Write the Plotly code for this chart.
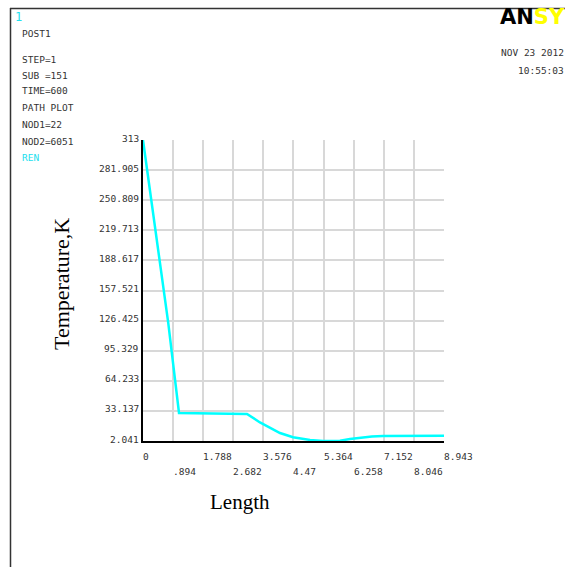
import plotly.graph_objects as go

# ---- data ----
length_vals = [0.0, 0.75, 1.07, 2.80, 3.09, 3.476, 3.773, 4.07, 4.457, 4.962, 5.35, 5.645,
               5.853, 6.15, 6.45, 6.80, 7.13, 8.943]
temp_vals = [313.0, 124.0, 31.0, 30.5, 29.9, 21.2, 15.5, 10.3, 5.9, 3.1, 2.041, 2.041,
             2.35, 4.1, 5.45, 6.7, 7.2, 7.5]

x_ticks = [0, 0.894, 1.788, 2.682, 3.576, 4.47, 5.364, 6.258, 7.152, 8.046, 8.943]
x_tick_labels = ["0", ".894", "1.788", "2.682", "3.576", "4.47", "5.364", "6.258",
                 "7.152", "8.046", "8.943"]
y_ticks = [2.041, 33.137, 64.233, 95.329, 126.425, 157.521, 188.617, 219.713,
           250.809, 281.905, 313]
y_tick_labels = ["2.041", "33.137", "64.233", "95.329", "126.425", "157.521",
                 "188.617", "219.713", "250.809", "281.905", "313"]

info_lines = ["POST1", "STEP=1", "SUB =151", "TIME=600", "PATH PLOT", "NOD1=22", "NOD2=6051"]
info_y_px = [33.3, 59.3, 75.3, 90.7, 107.7, 124.3, 141.0]

W, H = 565, 567
L, R, T, B = 143, 444, 140, 441


def px_x(px):
    return (px - L) / (R - L)


def px_y(py):
    return (B - py) / (B - T)


mono = "DejaVu Sans Mono"
txt_col = "#333333"
cyan = "#00ffff"

fig = go.Figure()
fig.add_trace(go.Scatter(x=length_vals, y=temp_vals, mode="lines",
                         line=dict(color=cyan, width=2.5), cliponaxis=False,
                         hoverinfo="skip"))

annotations = []
for i, (v, lab) in enumerate(zip(x_ticks, x_tick_labels)):
    annotations.append(dict(x=v, xref="x", y=px_y(456.5 if i % 2 == 0 else 471.5), yref="paper",
                            text=lab, showarrow=False, xanchor="left", yanchor="middle",
                            xshift=-2, font=dict(family=mono, size=9.5, color=txt_col)))
for v, lab in zip(y_ticks, y_tick_labels):
    annotations.append(dict(x=px_x(141), xref="paper", y=v, yref="y", text=lab,
                            showarrow=False, xanchor="right", yanchor="middle", yshift=2,
                            font=dict(family=mono, size=9.5, color=txt_col)))
for lab, py in zip(info_lines, info_y_px):
    annotations.append(dict(x=px_x(20), xref="paper", y=px_y(py), yref="paper", text=lab,
                            showarrow=False, xanchor="left", yanchor="middle",
                            font=dict(family=mono, size=9.5, color=txt_col)))
annotations.append(dict(x=px_x(20), xref="paper", y=px_y(157.3), yref="paper", text="REN",
                        showarrow=False, xanchor="left", yanchor="middle",
                        font=dict(family=mono, size=9.5, color="#22e0ee")))
annotations.append(dict(x=px_x(13), xref="paper", y=px_y(17), yref="paper", text="1",
                        showarrow=False, xanchor="left", yanchor="middle",
                        font=dict(family=mono, size=12, color="#22e0ee")))
annotations.append(dict(x=px_x(566), xref="paper", y=px_y(52), yref="paper", text="NOV 23 2012",
                        showarrow=False, xanchor="right", yanchor="middle",
                        font=dict(family=mono, size=9.5, color=txt_col)))
annotations.append(dict(x=px_x(566), xref="paper", y=px_y(70), yref="paper", text="10:55:03",
                        showarrow=False, xanchor="right", yanchor="middle",
                        font=dict(family=mono, size=9.5, color=txt_col)))
annotations.append(dict(x=px_x(498), xref="paper", y=px_y(17.5), yref="paper",
                        text="<b><span style='color:#000000'>AN</span><span style='color:#ffff00'>SYS</span></b>",
                        showarrow=False, xanchor="left", yanchor="middle",
                        font=dict(family="DejaVu Sans", size=21, color="#000000")))
annotations.append(dict(x=px_x(240), xref="paper", y=px_y(502), yref="paper", text="Length",
                        showarrow=False, xanchor="center", yanchor="middle",
                        font=dict(family="Liberation Serif", size=21, color="#000000")))
annotations.append(dict(x=px_x(61), xref="paper", y=px_y(284), yref="paper", text="Temperature,K",
                        showarrow=False, xanchor="center", yanchor="middle", textangle=-90,
                        font=dict(family="Liberation Serif", size=22, color="#000000")))

shapes = [
    dict(type="line", xref="paper", yref="paper", x0=px_x(10.5), x1=px_x(10.5),
         y0=px_y(8), y1=px_y(570), line=dict(color="#333333", width=1.5)),
    dict(type="line", xref="paper", yref="paper", x0=px_x(10), x1=px_x(570),
         y0=px_y(8.5), y1=px_y(8.5), line=dict(color="#333333", width=1.5)),
]

fig.update_layout(
    width=W, height=H,
    margin=dict(l=L, r=W - R, t=T, b=H - B, pad=0),
    paper_bgcolor="white", plot_bgcolor="white",
    showlegend=False,
    annotations=annotations,
    shapes=shapes,
    xaxis=dict(range=[0, 8.943], tickvals=x_ticks, showticklabels=False, ticks="",
               showgrid=True, gridcolor="#d8d8d8", gridwidth=1.5, zeroline=False,
               showline=True, linecolor="#000000", linewidth=2, layer="below traces",
               fixedrange=True),
    yaxis=dict(range=[2.041, 313], tickvals=y_ticks, showticklabels=False, ticks="",
               showgrid=True, gridcolor="#d8d8d8", gridwidth=1.5, zeroline=False,
               showline=True, linecolor="#000000", linewidth=2, layer="below traces",
               fixedrange=True),
)

fig.write_html("out.html", config={"displayModeBar": False})
